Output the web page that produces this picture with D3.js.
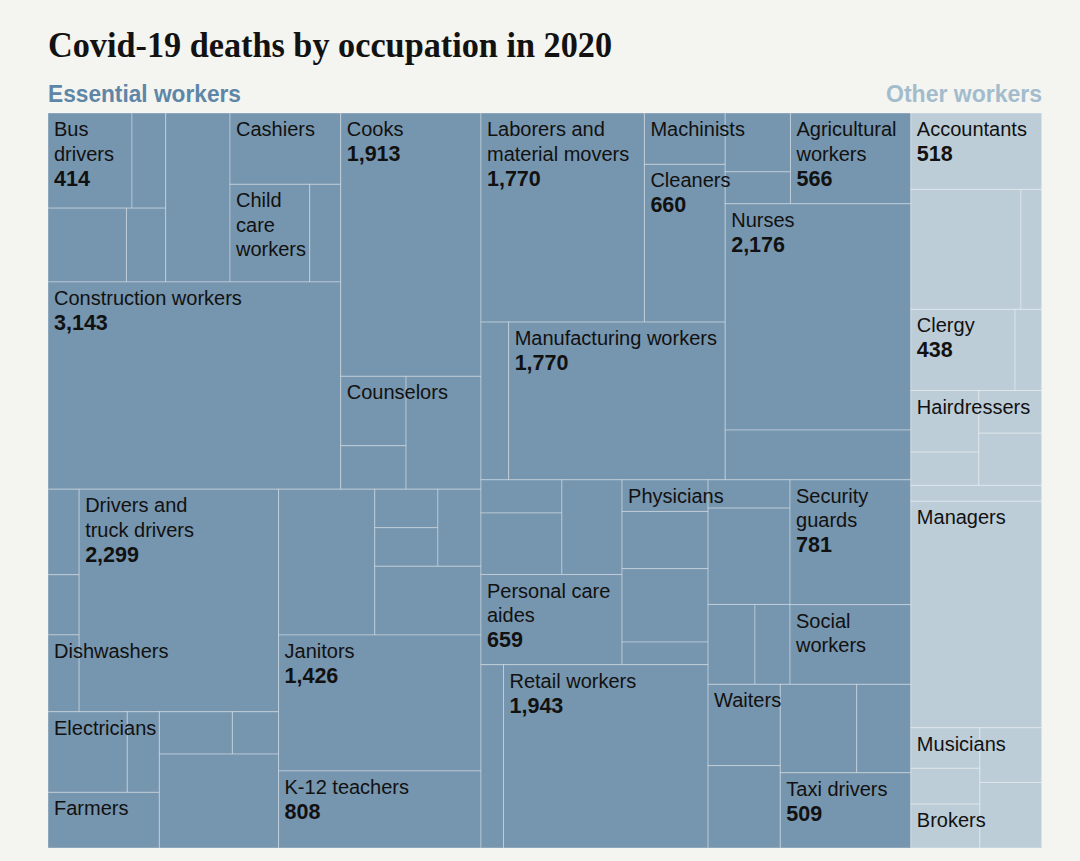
<!DOCTYPE html>
<html>
<head>
<meta charset="utf-8">
<script src="https://cdn.jsdelivr.net/npm/d3@7"></script>
<style>
  html, body { margin: 0; padding: 0; background: #f4f4f0; }
  svg { display: block; }
</style>
</head>
<body>
<svg id="chart" width="1080" height="861"></svg>
<script>
// ---- Data ----
// Occupation keys (unlabeled cells are keyed x1..x46), in layout order
const occupations = [
  "Bus drivers","x1","x2","x3","x4","Cashiers","Child care workers","x5",
  "Construction workers","Cooks","Counselors","x6","x7",
  "x8","x9","Dishwashers","Drivers and truck drivers","Electricians","x10","Farmers",
  "x11","x12","x13","x14","x15","x16","x17","x18","Janitors","K-12 teachers",
  "Laborers and material movers","Machinists","Cleaners","x19","Manufacturing workers",
  "x20","x21","Agricultural workers","Nurses","x22",
  "x23","x24","x25","Personal care aides","Physicians","x26","x27","x28","x29","Retail workers",
  "x30","x31","x32","x33","Security guards","Social workers","Waiters","x34","x35","x36","Taxi drivers",
  "Accountants","x37","x38","Clergy","x39","Hairdressers","x40","x41","x42","x43",
  "Managers","Musicians","x44","Brokers","x45","x46"
];
const deaths = [
  414,166,300,150,563,409,403,157,
  3143,1913,235,147,438,
  138,97,124,2299,331,134,321,
  160,101,580,727,126,126,172,378,1426,808,
  1770,215,660,226,1770,
  199,108,566,2176,479,
  139,258,295,659,141,255,327,101,214,1943,
  120,409,194,145,781,499,304,308,350,248,509,
  518,684,129,438,112,217,117,139,170,108,
  1535,145,128,157,175,210
];
// Displayed labels ("|" = line break)
const labelText = {
  "Bus drivers": "Bus|drivers",
  "Cashiers": "Cashiers",
  "Child care workers": "Child|care|workers",
  "Construction workers": "Construction workers",
  "Cooks": "Cooks",
  "Counselors": "Counselors",
  "Dishwashers": "Dishwashers",
  "Drivers and truck drivers": "Drivers and|truck drivers",
  "Electricians": "Electricians",
  "Farmers": "Farmers",
  "Janitors": "Janitors",
  "K-12 teachers": "K-12 teachers",
  "Laborers and material movers": "Laborers and|material movers",
  "Machinists": "Machinists",
  "Cleaners": "Cleaners",
  "Manufacturing workers": "Manufacturing workers",
  "Agricultural workers": "Agricultural|workers",
  "Nurses": "Nurses",
  "Personal care aides": "Personal care|aides",
  "Physicians": "Physicians",
  "Retail workers": "Retail workers",
  "Security guards": "Security|guards",
  "Social workers": "Social|workers",
  "Waiters": "Waiters",
  "Taxi drivers": "Taxi drivers",
  "Accountants": "Accountants",
  "Clergy": "Clergy",
  "Hairdressers": "Hairdressers",
  "Managers": "Managers",
  "Musicians": "Musicians",
  "Brokers": "Brokers"
};
const withCount = [
  "Bus drivers","Construction workers","Cooks","Drivers and truck drivers","Janitors",
  "K-12 teachers","Laborers and material movers","Cleaners","Manufacturing workers",
  "Agricultural workers","Nurses","Personal care aides","Retail workers","Security guards",
  "Taxi drivers","Accountants","Clergy"
];
const sections = ["Essential workers","Essential workers","Other workers"];

// Nesting (alternating dice / slice by depth)
const leftColumn = [
  [ // top-left
    [ [ [["Bus drivers","x1"],["x2","x3"]], "x4", ["Cashiers",["Child care workers","x5"]] ], "Construction workers" ],
    [ "Cooks", [["Counselors","x6"],"x7"] ]
  ],
  [ // bottom-left
    [ [ ["x8","x9","Dishwashers"], "Drivers and truck drivers" ],
      [ [["Electricians","x10"],"Farmers"], [["x11","x12"],"x13"] ] ],
    [ ["x14", [[["x15","x16"],"x17"],"x18"]], "Janitors", "K-12 teachers" ]
  ]
];
const rightColumn = [
  [ // top-middle
    [ ["Laborers and material movers",["Machinists","Cleaners"]], ["x19","Manufacturing workers"] ],
    [ [["x20","x21"],"Agricultural workers"], "Nurses", "x22" ]
  ],
  [ // bottom-middle
    [ [ [[["x23","x24"],"x25"],"Personal care aides"], ["Physicians","x26","x27","x28"] ],
      ["x29","Retail workers"] ],
    [ [ ["x30","x31",["x32","x33"]], ["Security guards","Social workers"] ],
      [ ["Waiters","x34"], [["x35","x36"],"Taxi drivers"] ] ]
  ]
];
const otherColumn = [
  "Accountants", ["x37","x38"], ["Clergy","x39"],
  [["Hairdressers","x40"],["x41","x42"]], "x43", "Managers",
  [["Musicians","x44","Brokers"],["x45","x46"]]
];
const layoutTree = [leftColumn, rightColumn, otherColumn];

// ---- Drawing ----
const svg = d3.select("#chart");
const chartLeft = 48, chartTop = 113, chartW = 993.7, chartH = 735;
const colors = { "Essential workers": "#7695ae", "Other workers": "#bccdd7" };

svg.append("rect").attr("width", 1080).attr("height", 861).attr("fill", "#f4f4f0");

svg.append("text")
  .attr("x", 48).attr("y", 57)
  .attr("font-family", "'Liberation Serif', 'DejaVu Serif', serif")
  .attr("font-weight", "bold").attr("font-size", 36)
  .attr("textLength", 564).attr("lengthAdjust", "spacingAndGlyphs")
  .attr("fill", "#121212")
  .text("Covid-19 deaths by occupation in 2020");

svg.append("text")
  .attr("x", 48).attr("y", 102)
  .attr("font-family", "'Liberation Sans', Arial, sans-serif")
  .attr("font-weight", "bold").attr("font-size", 23)
  .attr("textLength", 193).attr("lengthAdjust", "spacingAndGlyphs")
  .attr("fill", "#5d86a7")
  .text("Essential workers");

svg.append("text")
  .attr("x", 1042).attr("y", 102).attr("text-anchor", "end")
  .attr("font-family", "'Liberation Sans', Arial, sans-serif")
  .attr("font-weight", "bold").attr("font-size", 23)
  .attr("fill", "#a3bccd")
  .text("Other workers");

const root = d3.hierarchy(layoutTree, d => Array.isArray(d) ? d : null)
  .sum(d => typeof d === "string" ? deaths[occupations.indexOf(d)] : 0);

d3.treemap()
  .tile(d3.treemapSliceDice)
  .size([chartW, chartH])
  .round(false)(root);

const sectionOf = leaf => {
  const a = leaf.ancestors().find(n => n.depth === 1);
  return sections[root.children.indexOf(a)];
};

const g = svg.append("g").attr("transform", `translate(${chartLeft},${chartTop})`);
const leaves = root.leaves();

g.selectAll("rect.cell").data(leaves).join("rect")
  .attr("class", "cell")
  .attr("x", d => d.x0).attr("y", d => d.y0)
  .attr("width", d => d.x1 - d.x0).attr("height", d => d.y1 - d.y0)
  .attr("fill", d => colors[sectionOf(d)])
  .attr("stroke", "rgba(255,255,255,0.3)")
  .attr("stroke-width", 1.1);

const fmt = d3.format(",");
const labeled = leaves.filter(d => labelText[d.data]);
const lh = 24.5;
labeled.forEach(d => {
  const lines = labelText[d.data].split("|");
  const t = g.append("text")
    .attr("font-family", "'Liberation Sans', Arial, sans-serif")
    .attr("fill", "#111111");
  lines.forEach((ln, i) => {
    t.append("tspan")
      .attr("x", d.x0 + 6).attr("y", d.y0 + 23 + i * lh)
      .attr("font-size", 20)
      .text(ln);
  });
  if (withCount.includes(d.data)) {
    t.append("tspan")
      .attr("x", d.x0 + 6).attr("y", d.y0 + 23.5 + lines.length * lh)
      .attr("font-size", 21.5).attr("font-weight", "bold")
      .text(fmt(d.value));
  }
});
</script>
</body>
</html>
